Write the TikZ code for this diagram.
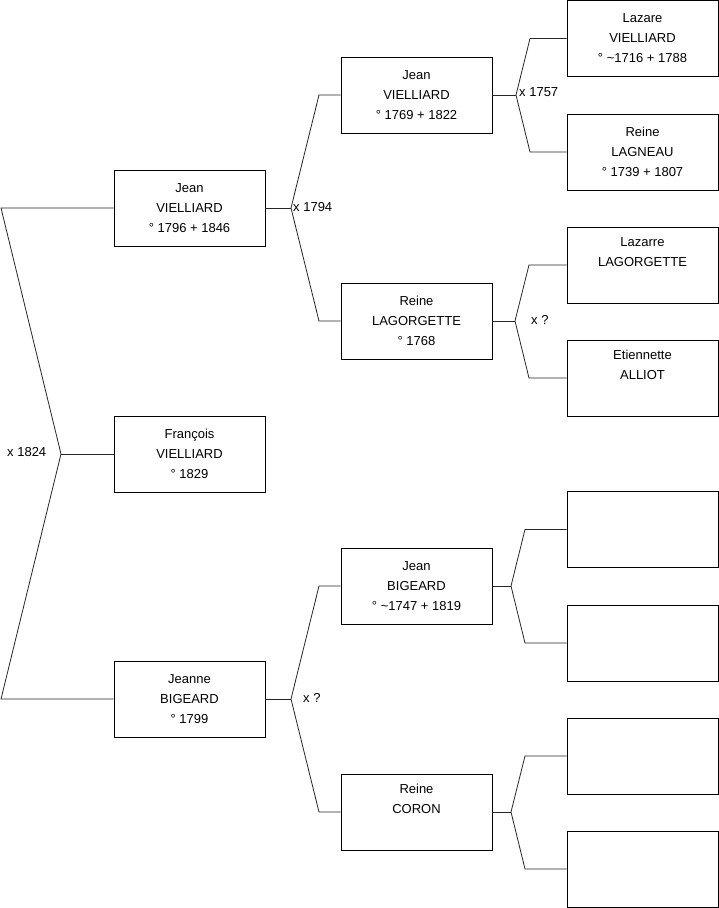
\documentclass[tikz,border=0pt]{standalone}
\usepackage{fontspec}
\setmainfont{Liberation Sans}
\begin{document}
\begin{tikzpicture}[x=1pt,y=-1pt,
  pbox/.style={draw=black,line width=0.8pt,minimum width=151pt,minimum height=76pt,inner sep=0pt,align=center,font=\fontsize{13}{20}\selectfont},
  lbl/.style={anchor=west,inner sep=1pt,font=\fontsize{13}{16}\selectfont},
  conn/.style={draw=black!85,line width=0.8pt}]
\useasboundingbox (0,0) rectangle (719,908);
% generation 0
\node[pbox] (jv1) at (189.5,208) {Jean\\VIELLIARD\\° 1796 + 1846};
\node[pbox] (fv) at (189.5,454) {François\\VIELLIARD\\° 1829};
\node[pbox] (jb1) at (189.5,699) {Jeanne\\BIGEARD\\° 1799};
% generation 1
\node[pbox] (jv2) at (416.5,95) {Jean\\VIELLIARD\\° 1769 + 1822};
\node[pbox] (rl) at (416.5,321) {Reine\\LAGORGETTE\\° 1768};
\node[pbox] (jb2) at (416.5,586) {Jean\\BIGEARD\\° \textasciitilde1747 + 1819};
\node[pbox] (rc) at (416.5,812) {Reine\\CORON\\\strut};
% generation 2
\node[pbox] (lv) at (642.5,38.5) {Lazare\\VIELLIARD\\° \textasciitilde1716 + 1788};
\node[pbox] (rla) at (642.5,152) {Reine\\LAGNEAU\\° 1739 + 1807};
\node[pbox] (llg) at (642.5,265) {Lazarre\\LAGORGETTE\\\strut};
\node[pbox] (ea) at (642.5,378) {Etiennette\\ALLIOT\\\strut};
\node[pbox] (e1) at (642.5,529.5) {};
\node[pbox] (e2) at (642.5,643) {};
\node[pbox] (e3) at (642.5,756) {};
\node[pbox] (e4) at (642.5,869) {};
% bracket points
\coordinate (r0) at (61,454);
\coordinate (r0a) at (1,208);
\coordinate (r0b) at (1,699);
\coordinate (m1) at (291,208);
\coordinate (m1a) at (319,95);
\coordinate (m1b) at (319,321);
\coordinate (m2) at (291,699);
\coordinate (m2a) at (319,586);
\coordinate (m2b) at (319,812);
\coordinate (m3) at (516,95);
\coordinate (m3a) at (530,38.5);
\coordinate (m3b) at (530,152);
\coordinate (m4) at (515,321);
\coordinate (m4a) at (529,265);
\coordinate (m4b) at (529,378);
\coordinate (m5) at (511,586);
\coordinate (m5a) at (525,529.5);
\coordinate (m5b) at (525,643);
\coordinate (m6) at (511,812);
\coordinate (m6a) at (525,756);
\coordinate (m6b) at (525,869);
% connectors
\draw[conn] (jv1.west) -- (r0a) -- (r0) -- (r0b) -- (jb1.west);
\draw[conn] (r0) -- (fv.west);
\draw[conn] (jv1.east) -- (m1);
\draw[conn] (jv2.west) -- (m1a) -- (m1) -- (m1b) -- (rl.west);
\draw[conn] (jb1.east) -- (m2);
\draw[conn] (jb2.west) -- (m2a) -- (m2) -- (m2b) -- (rc.west);
\draw[conn] (jv2.east) -- (m3);
\draw[conn] (lv.west) -- (m3a) -- (m3) -- (m3b) -- (rla.west);
\draw[conn] (rl.east) -- (m4);
\draw[conn] (llg.west) -- (m4a) -- (m4) -- (m4b) -- (ea.west);
\draw[conn] (jb2.east) -- (m5);
\draw[conn] (e1.west) -- (m5a) -- (m5) -- (m5b) -- (e2.west);
\draw[conn] (rc.east) -- (m6);
\draw[conn] (e3.west) -- (m6a) -- (m6) -- (m6b) -- (e4.west);
% labels
\node[lbl] (l0) at (6,452) {x 1824};
\node[lbl] (l1) at (292,207) {x 1794};
\node[lbl] (l2) at (302,698) {x ?};
\node[lbl] (l3) at (518,92) {x 1757};
\node[lbl] (l4) at (530,320) {x ?};
\end{tikzpicture}
\end{document}
